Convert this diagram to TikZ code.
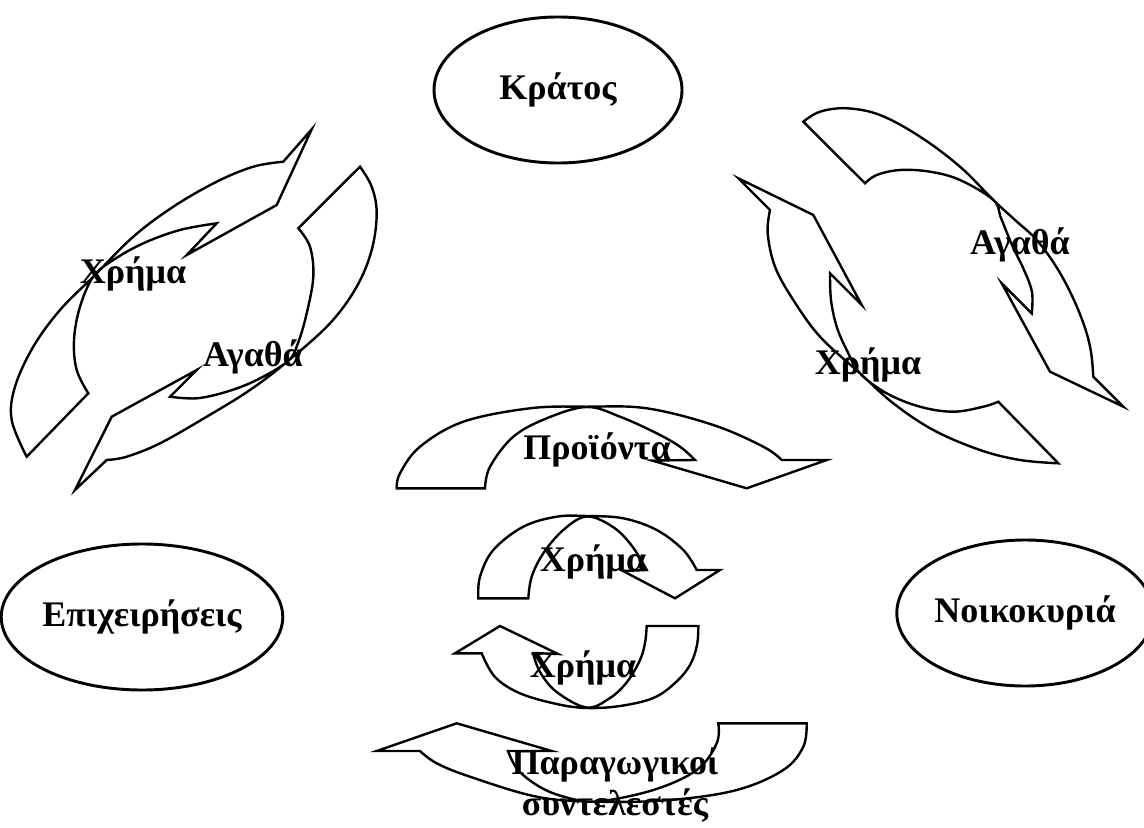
\documentclass[tikz,border=0pt]{standalone}
\usepackage{fontspec}
\setmainfont{Liberation Serif}
\usetikzlibrary{shapes.geometric}
\tikzset{
  band/.style={draw=black, line width=1.8pt, line join=miter},
  lbl/.style={font=\fontsize{27}{30}\selectfont\bfseries, inner sep=0pt},
  oval/.style={ellipse, draw=black, line width=2.2pt, minimum width=186pt, minimum height=109.5pt, inner sep=0pt, font=\fontsize{27}{30}\selectfont\bfseries},
  smo/.style={smooth, tension=0.6}
}
\begin{document}
\begin{tikzpicture}[x=0.75pt, y=-0.75pt]
\useasboundingbox (0,0) rectangle (1144,827);
% ---------- left pair ----------
% arrow A
\draw[band] (26.7,456.7) -- plot[smo] coordinates {(26.7,456.7) (11.7,420) (15,386.7) (33.3,346.7) (60,310) (93.3,276.7) (133.3,236.7) (173.3,206.7) (216.7,181.7) (253.3,166.7) (283.3,161.7)}
  -- (311.7,129.3) -- (276.7,205) -- (186.7,255) -- (216.7,223.3)
  -- plot[smo] coordinates {(216.7,223.3) (180,230) (143.3,243.3) (113.3,260) (93.3,276.7) (80,306.7) (74,340) (76.7,370) (88.3,393.3)} -- cycle;
% arrow B
\draw[band] (360,166.7) -- plot[smo] coordinates {(360,166.7) (371.7,186.7) (376.7,213.3) (371.7,250) (356.7,286.7) (330,323.3) (288,361) (250,390) (206.7,416.7) (160,443.3) (126.7,456.7) (106.7,460)}
  -- (75,490) -- (111.7,416.7) -- (196.7,370) -- (170,396.7)
  -- plot[smo] coordinates {(170,396.7) (196.7,398.3) (226.7,391.7) (256.7,380) (288,361) (298,343) (306.7,313.3) (313.3,276.7) (310,246.7) (298.3,228.3)} -- cycle;
% ---------- right pair ----------
% arrow D
\draw[band] (803.3,121.7) -- plot[smo] coordinates {(803.3,121.7) (820,111.7) (846.7,108.3) (880,115) (920,136.7) (960,166.7) (993.3,200) (1015,220) (1036.7,240) (1057,268) (1073,298) (1085,328) (1091,352) (1093.3,376.7)}
  -- (1123.3,406.7) -- (1050,371.7) -- (1001.7,283.3) -- (1031.7,313.3)
  -- plot[smo] coordinates {(1031.7,313.3) (1032,292) (1024,270) (1012,245) (1001,218) (993.3,200) (960,180) (930,171.7) (900,170) (876.7,175) (865,183.3)} -- cycle;
% arrow E
\draw[band] (1058.3,463.3) -- plot[smo] coordinates {(1058.3,463.3) (1020,460) (980,450) (933.3,430) (893.3,403.3) (860,373.3) (820,336.7) (793.3,300) (775,266.7) (767.7,233.3) (770,210)}
  -- (738.3,178.3) -- (813.3,215) -- (861.7,305) -- (830,273.3)
  -- plot[smo] coordinates {(830,273.3) (831,300) (836.7,326.7) (846.7,350) (860,373.3) (886.7,393.3) (920,406.7) (953.3,411.7) (983.3,406.7) (998.3,401.7)} -- cycle;
% ---------- centre ----------
% Proionta
\draw[band] (396.7,488.3) -- plot[smo] coordinates {(396.7,488.3) (400,473.3) (420,446.7) (463.3,421.7) (530,408.3) (586.7,406.7) (646.7,408.3) (713.3,425) (763.3,446.7) (781.7,460)}
  -- (826.7,460) -- (746.7,488.3) -- (652,460.5) -- (695,460)
  -- plot[smo] coordinates {(695,460) (680,446.7) (656.7,433.3) (620,416.7) (586.7,407) (546.7,418.3) (513.3,436.7) (490,466.7) (485,488.3)} -- cycle;
% upper Chrima
\draw[band] (478.3,598.3) -- plot[smo] coordinates {(478.3,598.3) (480,576.7) (493.3,550) (523.3,526.7) (556.7,516.7) (586.7,516) (623.3,518.3) (656.7,530) (683.3,550) (696.7,570)}
  -- (720,570) -- (675,598.3) -- (623,571) -- (646.7,570)
  -- plot[smo] coordinates {(646.7,570) (632,546) (613,527) (586.7,516.5) (563.3,530) (543.3,553.3) (531.7,576.7) (528.3,598.3)} -- cycle;
% lower Chrima
\draw[band] (698.3,626) -- plot[smo] coordinates {(698.3,626) (697,645) (690,665) (675,683) (653.3,698) (620,706) (586.7,708) (556.7,704) (520,693.3) (495,677) (481.7,653.3)}
  -- (455,653.3) -- (500,626) -- (558,654) -- (533,653)
  -- plot[smo] coordinates {(533,653) (540,672) (556.7,692) (586.7,707.5) (610,698) (627,682) (640,660) (645,643) (646.7,626)} -- cycle;
% Paragogikoi
\draw[band] (806.7,723.3) -- plot[smo] coordinates {(806.7,723.3) (803.3,746.7) (783.3,770) (736.7,790) (670,800) (596.7,801.7) (536.7,796.7) (470,776.7) (436.7,763.3) (420,751)}
  -- (376.7,751) -- (456.7,723.3) -- (551.7,751) -- (508,751)
  -- plot[smo] coordinates {(508,751) (518,770) (540,787) (565,797) (596.7,801.5) (653.3,790) (696.7,770) (716.7,743.3) (718.3,723.3)} -- cycle;
% ---------- ellipses ----------
\node[oval] (kratos) at (558,90) {Κράτος};
\node[oval] (epix) at (142,617) {Επιχειρήσεις};
\node[oval] (noik) at (1025,613) {Νοικοκυριά};
% ---------- labels ----------
\node[lbl] (xl) at (133,274) {Χρήμα};
\node[lbl] (al) at (253,357) {Αγαθά};
\node[lbl] (ar) at (1020,245) {Αγαθά};
\node[lbl] (xr) at (868,365) {Χρήμα};
\node[lbl] (pr) at (597,450) {Προϊόντα};
\node[lbl] (xu) at (593,562) {Χρήμα};
\node[lbl] (xd) at (583,668) {Χρήμα};
\node[lbl] (pg1) at (615,765) {Παραγωγικοί};
\node[lbl] (pg2) at (615,806) {συντελεστές};
\end{tikzpicture}
\end{document}
